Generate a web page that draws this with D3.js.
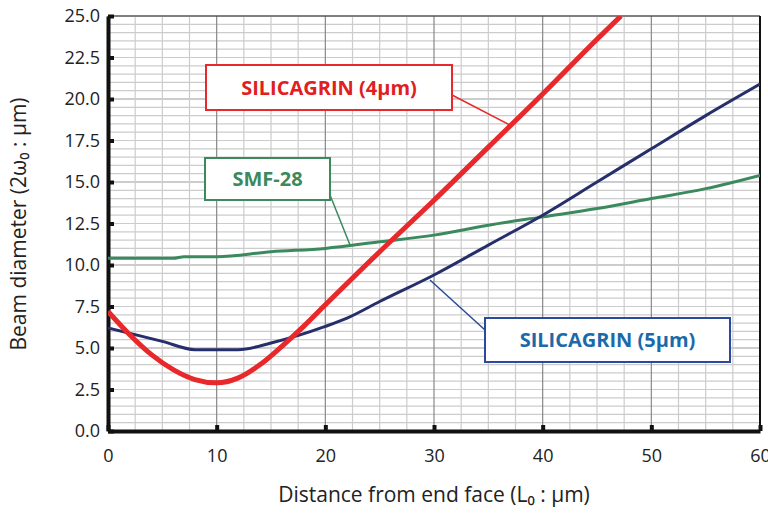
<!DOCTYPE html><html><head><meta charset="utf-8"><script src="https://cdn.jsdelivr.net/npm/d3@7"></script>
<style>body{margin:0;background:#fff}text{font-family:"Open Sans",sans-serif}</style></head><body>
<svg id="c" width="768" height="514"></svg>
<script>
const xTicks=[0,10,20,30,40,50,60];
const yTicks=[0,2.5,5,7.5,10,12.5,15,17.5,20,22.5,25];
const redX=[0,2,4,6,8,10,12,14,16,18,20,25,30,35,40,45,47.2];
const redY=[7.2,5.8,4.6,3.7,3.1,2.9,3.2,4.0,5.1,6.3,7.6,10.8,13.9,17.1,20.3,23.6,25];
const navyX=[0,5,8,12,15,20,22,25,30,35,40,45,50,55,60];
const navyY=[6.2,5.4,4.9,4.9,5.3,6.3,6.8,7.8,9.4,11.2,13.0,15.0,17.0,19.0,20.9];
const greenX=[0,6,7,10,15,20,25,30,35,40,45,50,55,60];
const greenY=[10.4,10.4,10.5,10.5,10.8,11.0,11.4,11.8,12.4,12.9,13.4,14.0,14.6,15.4];
const svg=d3.select("#c");
const x=d3.scaleLinear([0,60],[108,760]), y=d3.scaleLinear([0,25],[431,16]);
const g=svg.append("g");
for(let v=0;v<=25.001;v+=0.5) g.append("line").attr("x1",108).attr("x2",760).attr("y1",y(v)).attr("y2",y(v)).attr("stroke",Math.abs(v%5)<1e-6?"#999":"#ccc").attr("stroke-width",1.2);
for(let v=0;v<=60.001;v+=2.5) g.append("line").attr("y1",16).attr("y2",431).attr("x1",x(v)).attr("x2",x(v)).attr("stroke",Math.abs(v%10)<1e-6?"#888":"#ccc").attr("stroke-width",1.2);
svg.append("line").attr("x1",108).attr("x2",760).attr("y1",16).attr("y2",16).attr("stroke","#333");
svg.append("line").attr("x1",760).attr("x2",760).attr("y1",16).attr("y2",431).attr("stroke","#111").attr("stroke-width",2);
const ya=svg.append("g").attr("transform","translate(108,0)").call(d3.axisLeft(y).tickValues(yTicks).tickFormat(d3.format(".1f")).tickSize(6).tickSizeOuter(0));
const xa=svg.append("g").attr("transform","translate(0,431)").call(d3.axisBottom(x).tickValues(xTicks).tickSize(-6).tickSizeOuter(0));
[ya,xa].forEach(a=>{a.select(".domain").attr("stroke","#111").attr("stroke-width",4);a.selectAll(".tick line").attr("stroke","#111").attr("stroke-width",4);a.selectAll("text").attr("font-size",18).attr("fill","#222").style("font-family","Open Sans")});
ya.selectAll(".tick line").attr("x2",6);ya.selectAll("text").attr("x",-8);
xa.selectAll("text").attr("y",18);
const line=d3.line().x(d=>x(d[0])).y(d=>y(d[1])).curve(d3.curveMonotoneX);
const P=svg.append("g").attr("clip-path","url(#cl)");
svg.append("clipPath").attr("id","cl").append("rect").attr("x",108).attr("y",16).attr("width",652).attr("height",415);
P.append("path").attr("d",line(greenX.map((v,i)=>[v,greenY[i]]))).attr("fill","none").attr("stroke","#3a8a5e").attr("stroke-width",3);
P.append("path").attr("d",line(navyX.map((v,i)=>[v,navyY[i]]))).attr("fill","none").attr("stroke","#262f6b").attr("stroke-width",3);
P.append("path").attr("d",line(redX.map((v,i)=>[v,redY[i]]))).attr("fill","none").attr("stroke","#e8282b").attr("stroke-width",5);
function lab(bx,by,w,h,t,c,tc,lx1,ly1,lx2,ly2){
 svg.append("line").attr("x1",lx1).attr("y1",ly1).attr("x2",lx2).attr("y2",ly2).attr("stroke",c).attr("stroke-width",1.5);
 svg.append("rect").attr("x",bx).attr("y",by).attr("width",w).attr("height",h).attr("fill","#fff").attr("stroke",c).attr("stroke-width",2);
 svg.append("text").attr("x",bx+w/2).attr("y",by+h/2+7).attr("text-anchor","middle").attr("font-size",20).attr("font-weight","bold").attr("fill",tc).text(t);}
lab(206,65,246,45,"SILICAGRIN (4μm)","#e8282b","#e02020",452,95,510,125);
lab(205,158,125,42,"SMF-28","#3a8a5e","#3a8a5e",330,195,350,245);
lab(485,318,245,44,"SILICAGRIN (5μm)","#2a4a9a","#1a6aaa",485,330,430,280);
svg.append("text").attr("x",434).attr("y",502).attr("text-anchor","middle").attr("font-size",21).attr("fill","#222").text("Distance from end face (L₀ : μm)");
svg.append("text").attr("transform","translate(26,224) rotate(-90)").attr("text-anchor","middle").attr("font-size",21).attr("fill","#222").text("Beam diameter (2ω₀ : μm)");
</script></body></html>
